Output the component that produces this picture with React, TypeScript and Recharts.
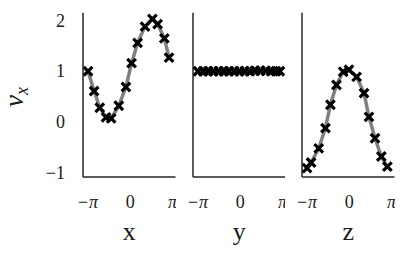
import React from "react"
import { LineChart, Line, XAxis, YAxis } from "recharts"

// sample positions (radians) and v_x values
const xCoords = [-3.14, -2.69, -2.27, -1.8, -1.42, -0.85, -0.32, 0.1, 0.55, 1.1, 1.65, 2.04, 2.54, 2.89]
const vxAlongX = [1.0, 0.61, 0.28, 0.09, 0.07, 0.32, 0.69, 1.16, 1.56, 1.88, 2.03, 1.93, 1.65, 1.27]

const yCoords = [-3.14, -2.76, -2.38, -2.0, -1.6, -1.22, -0.84, -0.45, -0.06, 0.33, 0.72, 1.1, 1.5, 1.9, 2.3, 2.66, 2.95]
const vxAlongY = [1.0, 1.0, 1.0, 1.0, 1.0, 1.0, 1.0, 1.0, 1.0, 1.0, 1.0, 1.01, 1.01, 1.01, 1.0, 1.0, 1.0]

const zCoords = [-3.14, -2.84, -2.27, -1.77, -1.4, -0.95, -0.45, -0.02, 0.55, 1.1, 1.47, 1.92, 2.39, 2.84]
const vxAlongZ = [-0.91, -0.8, -0.52, -0.12, 0.34, 0.73, 0.99, 1.03, 0.89, 0.57, 0.1, -0.32, -0.68, -0.88]

const panelLabels = ["x", "y", "z"]
const xTicks = [-Math.PI, 0, Math.PI]
const xTickLabels = ["\u2212π", "0", "π"]
const yTicks = [-1, 0, 1, 2]

const panels = [
  { label: panelLabels[0], data: xCoords.map((c, i) => ({ c, v: vxAlongX[i] })) },
  { label: panelLabels[1], data: yCoords.map((c, i) => ({ c, v: vxAlongY[i] })) },
  { label: panelLabels[2], data: zCoords.map((c, i) => ({ c, v: vxAlongZ[i] })) },
]

const FONT = "'Liberation Serif', 'DejaVu Serif', serif"
const INK = "#1a1a1a"
const SPINE = "#262626"

function XMark(props: any) {
  const { cx, cy } = props
  if (cx == null || cy == null) return null
  const h = 4.3
  return (
    <path
      key={`m-${cx}-${cy}`}
      d={`M${cx - h},${cy - h}L${cx + h},${cy + h}M${cx - h},${cy + h}L${cx + h},${cy - h}`}
      stroke="#000"
      strokeWidth={3.2}
      fill="none"
    />
  )
}

function XTick(props: any) {
  const { x, y, index } = props
  const s = xTickLabels[index]
  return (
    <text x={x} y={y + 31} textAnchor="middle" fontFamily={FONT} fontSize={18} fill={INK}>
      {s.startsWith("\u2212") ? "\u2212" : null}
      {s === "0" ? "0" : <tspan fontStyle="italic" dx={s.length > 1 ? 1 : 0}>π</tspan>}
    </text>
  )
}

function YTick(props: any) {
  const { x, y, payload } = props
  const v = payload.value
  return (
    <text x={x - 18} y={y + 6} textAnchor="end" fontFamily={FONT} fontSize={18} fill={INK}>
      {v < 0 ? `\u2212${Math.abs(v)}` : String(v)}
    </text>
  )
}

function Panel({ index }: { index: number }) {
  const p = panels[index]
  const first = index === 0
  return (
    <div style={{ position: "absolute", left: index * 109.7, top: 0 }}>
      <LineChart width={175.5} height={257} data={p.data} margin={{ top: 12.7, right: 0, bottom: 0, left: 0 }}>
        <XAxis
          dataKey="c"
          type="number"
          domain={[-3.516, 3.37]}
          ticks={xTicks}
          interval={0}
          allowDataOverflow
          height={80}
          tickSize={0}
          tickMargin={0}
          tickLine={false}
          axisLine={{ stroke: SPINE, strokeWidth: 1.5 }}
          tick={<XTick />}
          label={(lp: any) => {
            const vb = lp.viewBox
            return (
              <text x={vb.x + vb.width / 2} y={vb.y + 63} textAnchor="middle" fontFamily={FONT} fontSize={26} fill={INK}>
                {p.label}
              </text>
            )
          }}
        />
        <YAxis
          type="number"
          domain={[-1.085, 2.155]}
          ticks={yTicks}
          interval={0}
          allowDataOverflow
          width={83}
          tickSize={0}
          tickMargin={0}
          tickLine={false}
          axisLine={{ stroke: SPINE, strokeWidth: 1.5 }}
          tick={first ? <YTick /> : false}
          label={
            first
              ? () => (
                  <text
                    transform="translate(23,97) rotate(-90)"
                    textAnchor="middle"
                    fontFamily={FONT}
                    fontSize={27}
                    fill={INK}
                  >
                    <tspan fontStyle="italic">v</tspan>
                    <tspan fontStyle="italic" fontSize={18} dy={5}>x</tspan>
                  </text>
                )
              : undefined
          }
        />
        <Line
          dataKey="v"
          type="linear"
          stroke="#808080"
          strokeWidth={3.5}
          dot={XMark}
          activeDot={false}
          isAnimationActive={false}
        />
      </LineChart>
    </div>
  )
}

export default function App() {
  return (
    <div style={{ position: "absolute", left: 0, top: 0, width: 415, height: 257, background: "#fff" }}>
      <Panel index={0} />
      <Panel index={1} />
      <Panel index={2} />
    </div>
  )
}
